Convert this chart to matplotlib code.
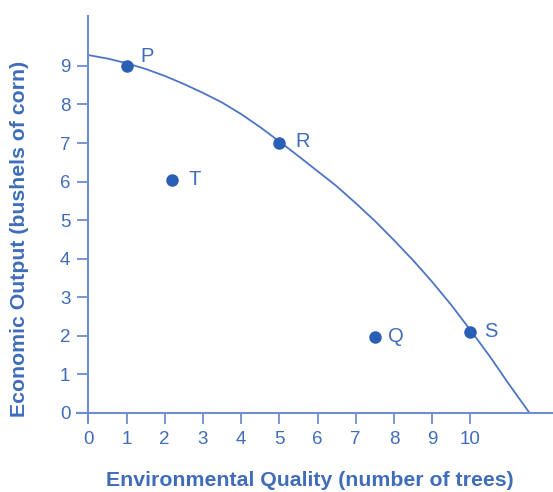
import matplotlib
matplotlib.use("Agg")
import matplotlib.pyplot as plt

# Data
curve_x = [0, 0.5, 1, 1.5, 2, 2.5, 3, 3.5, 4, 4.5, 5, 5.5, 6, 6.5, 7, 7.5, 8, 8.5, 9, 9.5, 10, 10.5, 11, 11.55]
curve_y = [9.28, 9.19, 9.07, 8.92, 8.74, 8.53, 8.30, 8.05, 7.75, 7.41, 7.04, 6.66, 6.27, 5.88, 5.44, 4.98, 4.48, 3.96, 3.40, 2.80, 2.15, 1.48, 0.76, 0.0]

point_labels = ["P", "R", "S", "T", "Q"]
point_x = [1.0, 5.0, 10.0, 2.2, 7.5]
point_y = [9.0, 7.0, 2.1, 6.05, 1.97]
label_dx = [15, 17, 15, 16, 15]   # offsets in points
label_dy = [7, 1, 0, 0, 0]

x_ticks = list(range(0, 11))
y_ticks = list(range(0, 10))

axis_color = "#6f8dd2"
text_color = "#3f6dbb"
dot_color = "#2a5fb6"
line_color = "#4d74c6"

plt.rcParams["font.family"] = ["Liberation Sans", "DejaVu Sans"]

fig = plt.figure(figsize=(5.53, 4.92), dpi=100)
ax = fig.add_axes([0.139, 0.145, 0.8635, 0.823])
ax.set_xlim(-0.3, 12.2)
ax.set_ylim(-0.2, 10.3)

ax.plot(curve_x, curve_y, color=line_color, lw=1.3, solid_capstyle="round",
        solid_joinstyle="round", zorder=2)
ax.plot(point_x, point_y, "o", color=dot_color, ms=8, zorder=3)
for lab, px, py, dx, dy in zip(point_labels, point_x, point_y, label_dx, label_dy):
    ax.annotate(lab, (px, py), xytext=(dx, dy), textcoords="offset points",
                ha="center", va="center", fontsize=14.5, color=text_color)

for s in ["top", "right"]:
    ax.spines[s].set_visible(False)
for s in ["left", "bottom"]:
    ax.spines[s].set_position(("data", 0))
    ax.spines[s].set_color(axis_color)
    ax.spines[s].set_linewidth(1.5)

ax.set_xticks(x_ticks)
ax.set_yticks(y_ticks)
ax.tick_params(axis="both", direction="out", length=8, width=1.3, color=axis_color,
               labelcolor=text_color, labelsize=13.5, pad=5)

fig.text(0.561, 0.024, "Environmental Quality (number of trees)", ha="center", va="center",
         fontsize=15.3, fontweight="bold", color=text_color)
fig.text(0.036, 0.514, "Economic Output (bushels of corn)", ha="center", va="center",
         rotation=90, fontsize=15.3, fontweight="bold", color=text_color)

fig.savefig("out.png", dpi=100, facecolor="white")
